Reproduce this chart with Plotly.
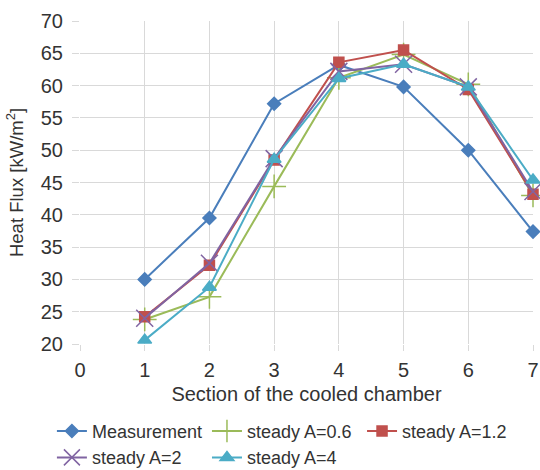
import plotly.graph_objects as go

sections = [1, 2, 3, 4, 5, 6, 7]
measurement = [30.0, 39.5, 57.2, 63.2, 59.8, 50.0, 37.4]
steady_a06 = [23.8, 27.3, 44.4, 61.2, 64.8, 60.2, 43.0]
steady_a12 = [24.2, 32.2, 48.5, 63.6, 65.5, 59.4, 43.2]
steady_a2 = [24.0, 32.5, 48.7, 62.2, 63.3, 59.8, 43.6]
steady_a4 = [20.6, 28.8, 48.6, 61.1, 63.3, 59.8, 45.4]

x_ticks = [0, 1, 2, 3, 4, 5, 6, 7]
y_ticks = [20, 25, 30, 35, 40, 45, 50, 55, 60, 65, 70]

series = [
    ("Measurement", measurement, "#4A7EBB", "diamond", 10),
    ("steady A=0.6", steady_a06, "#9BBB59", "cross-thin-open", 17),
    ("steady A=1.2", steady_a12, "#C0504D", "square", 10),
    ("steady A=2", steady_a2, "#8064A2", "x-thin-open", 17),
    ("steady A=4", steady_a4, "#4BACC6", "triangle-up", 12),
]

fig = go.Figure()
for name, vals, color, sym, size in series:
    fig.add_trace(go.Scatter(
        x=sections, y=vals, name=name, mode="lines+markers",
        line=dict(color=color, width=2),
        marker=dict(symbol=sym, size=size, color=color,
                    line=dict(color=color, width=1.5)),
        cliponaxis=False,
    ))

font = "Liberation Sans, Arial, sans-serif"
fig.update_layout(
    width=540, height=470,
    margin=dict(l=80, r=7, t=21, b=126, autoexpand=False),
    paper_bgcolor="white", plot_bgcolor="white",
    font=dict(family=font, size=18, color="#333333"),
    showlegend=True,
    legend=dict(orientation="h", x=-0.062, xanchor="left",
                y=-0.213, yanchor="top",
                font=dict(size=18), itemwidth=30, tracegroupgap=0,
                itemclick=False, bgcolor="rgba(0,0,0,0)"),
    xaxis=dict(range=[0, 7], tickvals=x_ticks, showgrid=True,
               gridcolor="#D9D9D9", gridwidth=1, zeroline=False,
               showline=False, ticks="outside", ticklen=6,
               tickcolor="#D9D9D9", tickfont=dict(size=20),
               ticklabeloverflow="allow", automargin=True,
               ticklabelstandoff=2,
               title=dict(text="Section of the cooled chamber",
                          font=dict(size=20), standoff=6)),
    yaxis=dict(range=[20, 70], tickvals=y_ticks, showgrid=True,
               gridcolor="#D9D9D9", gridwidth=1, zeroline=False,
               showline=False, ticks="outside", ticklen=7,
               tickcolor="#D9D9D9", tickfont=dict(size=20),
               automargin=True, ticklabelstandoff=5,
               title=dict(text="Heat Flux [kW/m<sup>2</sup>]",
                          font=dict(size=18.5), standoff=12)),
)

fig.write_html("out.html", config={"displayModeBar": False},
               post_script="document.body.style.margin='0';")
